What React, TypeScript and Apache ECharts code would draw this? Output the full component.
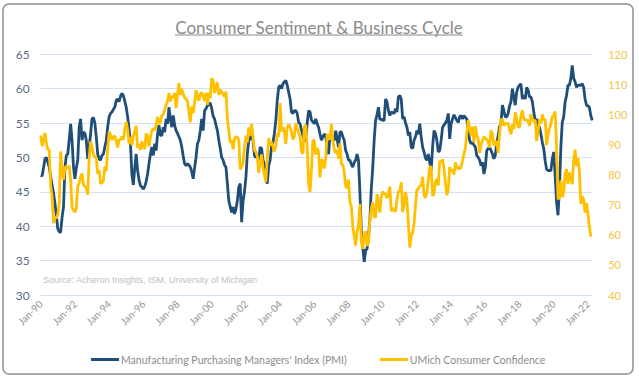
import React, { useEffect, useRef } from "react";
import * as echarts from "echarts";

// Monthly data, Jan-1990 onward
const START_YEAR = 1990;
const MONTHS = ["Jan", "Feb", "Mar", "Apr", "May", "Jun", "Jul", "Aug", "Sep", "Oct", "Nov", "Dec"];

const pmi: number[] = [
  47.4,
  47.3, 48.5, 49.8, 50.0, 49.3, 48.6, 47.2, 46.0, 44.8, 43.3, 41.5, 39.6,
  39.2, 39.1, 41.3, 42.8, 48.5, 50.3, 50.5, 52.5, 54.9, 52.5, 48.6, 46.9,
  48.5, 49.6, 54.4, 55.6, 52.5, 53.7, 53.5, 52.5, 49.8, 51.5, 53.4, 55.6,
  55.8, 55.0, 53.0, 50.5, 49.8, 49.6, 50.3, 50.5, 51.5, 52.5, 54.4, 55.9,
  56.4, 56.6, 57.0, 57.3, 58.3, 58.5, 58.1, 58.9, 59.3, 59.0, 58.2, 57.3,
  55.9, 54.2, 52.0, 47.5, 46.0, 48.5, 50.5, 48.1, 46.7, 45.9, 45.7, 45.4,
  45.8, 46.5, 47.6, 49.1, 50.5, 51.5, 50.3, 52.0, 51.0, 53.4, 54.7, 53.2,
  53.2, 54.4, 53.7, 55.6, 54.9, 57.3, 55.6, 54.4, 56.1, 54.7, 53.9, 53.5,
  53.0, 52.5, 51.5, 50.2, 49.1, 48.8, 49.1, 48.9, 48.6, 47.9, 46.9, 48.5,
  50.0, 52.0, 52.5, 53.9, 55.6, 53.9, 56.8, 57.1, 57.5, 57.8, 57.9, 57.1,
  56.0, 55.6, 54.7, 53.9, 52.5, 51.3, 50.0, 49.6, 48.9, 48.6, 46.2, 43.7,
  42.8, 42.0, 42.8, 41.8, 42.5, 43.7, 45.7, 46.2, 40.6, 43.7, 45.0, 47.1,
  50.5, 52.5, 52.7, 53.4, 52.5, 50.3, 50.0, 50.3, 49.6, 51.5, 51.3, 49.6,
  49.0, 47.1, 46.2, 48.8, 49.6, 51.7, 52.2, 53.5, 55.4, 58.3, 60.2, 60.5,
  60.0, 60.7, 61.0, 61.2, 60.5, 59.5, 58.5, 56.6, 56.4, 56.8, 56.8, 56.4,
  55.1, 54.9, 54.0, 53.2, 52.5, 52.5, 55.0, 56.8, 56.6, 55.4, 55.2, 54.9,
  55.6, 54.9, 54.4, 53.4, 52.5, 53.0, 53.4, 53.2, 51.0, 50.5, 53.2, 53.0,
  52.6, 52.5, 53.9, 52.7, 51.5, 53.7, 53.7, 53.0, 52.5, 51.0, 50.5, 49.6,
  49.6, 49.0, 48.6, 49.3, 49.6, 50.5, 49.6, 45.0, 39.5, 37.0, 34.8, 36.5,
  36.7, 38.5, 41.0, 45.5, 48.5, 52.5, 55.4, 56.2, 57.3, 55.5, 55.6, 55.4,
  55.4, 58.5, 58.1, 56.8, 56.1, 56.6, 56.5, 56.4, 57.1, 56.6, 58.8, 59.0,
  58.5, 55.6, 55.9, 55.0, 54.4, 53.2, 53.7, 51.5, 51.3, 52.5, 53.0, 53.9,
  53.4, 54.9, 53.0, 51.5, 50.8, 49.9, 49.6, 50.5, 49.3, 48.1, 51.5, 53.9,
  53.5, 52.5, 50.8, 51.0, 52.5, 54.4, 54.7, 55.0, 55.4, 56.4, 52.7, 54.9,
  55.6, 56.2, 55.8, 55.4, 55.1, 55.9, 56.1, 55.6, 56.1, 55.8, 55.6, 53.9,
  52.5, 52.0, 52.2, 51.8, 51.5, 50.3, 50.0, 49.6, 48.8, 49.3, 47.6, 48.6,
  51.0, 51.3, 51.5, 51.0, 50.5, 49.8, 50.3, 52.0, 53.2, 54.5, 55.0, 57.6,
  56.8, 55.9, 55.9, 56.4, 57.5, 58.1, 60.0, 58.8, 57.6, 59.5, 60.2, 60.5,
  60.7, 58.5, 59.0, 58.5, 60.2, 59.8, 58.8, 58.8, 58.1, 56.6, 55.4, 55.6,
  54.6, 54.4, 53.4, 52.2, 51.3, 49.5, 48.3, 48.1, 48.1, 48.1, 49.8, 50.8,
  47.4, 43.5, 41.6, 45.4, 51.5, 55.1, 55.9, 58.1, 59.0, 60.5, 60.5, 61.5,
  63.4, 61.5, 61.0, 60.2, 60.5, 60.5, 60.5, 60.7, 60.2, 58.5, 57.6, 57.5,
  57.3, 56.1, 55.4,
];

const umich: number[] = [
  93.0, 89.5, 91.3, 93.9, 90.6, 88.3, 88.2, 76.4, 72.8, 63.9, 66.0, 65.5,
  66.8, 70.4, 87.7, 81.8, 78.3, 82.1, 82.9, 82.0, 83.0, 78.3, 69.1, 68.2,
  67.5, 68.8, 76.0, 77.2, 79.2, 80.4, 76.6, 76.1, 75.6, 73.3, 85.3, 91.0,
  89.3, 86.6, 85.9, 85.6, 80.3, 81.5, 77.0, 77.3, 77.9, 82.7, 81.2, 88.2,
  94.3, 93.2, 91.5, 92.6, 92.8, 91.2, 89.0, 91.7, 91.5, 92.7, 91.6, 95.1,
  97.6, 95.1, 90.3, 92.5, 89.8, 92.7, 94.4, 96.2, 88.9, 90.2, 88.2, 91.0,
  89.3, 88.5, 93.7, 92.7, 89.4, 92.4, 94.7, 95.3, 94.7, 96.5, 99.2, 96.9,
  97.4, 99.7, 100.0, 101.4, 103.2, 104.5, 107.1, 104.4, 106.0, 105.6, 107.2, 102.1,
  106.6, 110.4, 106.5, 108.5, 106.8, 105.6, 105.2, 104.4, 100.9, 97.4, 102.7, 100.5,
  103.9, 108.1, 105.7, 104.6, 106.8, 107.3, 106.0, 104.5, 107.2, 103.2, 107.2, 105.4,
  112.0, 111.3, 107.1, 109.2, 110.7, 106.4, 108.3, 107.3, 106.8, 105.8, 107.6, 98.4,
  94.7, 90.6, 91.5, 88.4, 92.0, 92.6, 92.4, 91.5, 81.8, 82.7, 83.9, 88.8,
  93.0, 90.7, 95.7, 93.0, 96.9, 92.4, 88.1, 87.6, 86.1, 80.6, 84.2, 86.7,
  82.4, 79.9, 77.6, 86.0, 92.1, 89.7, 90.9, 89.3, 87.7, 89.6, 93.7, 92.6,
  103.8, 94.4, 95.8, 94.2, 90.2, 95.6, 96.7, 95.9, 94.2, 91.7, 92.8, 97.1,
  95.5, 94.1, 92.6, 87.7, 86.9, 96.0, 96.5, 89.1, 76.9, 74.2, 81.6, 91.5,
  91.2, 86.7, 88.9, 87.4, 79.1, 84.9, 84.7, 82.0, 85.4, 93.6, 92.1, 91.7,
  96.9, 91.3, 88.4, 87.1, 88.3, 85.3, 90.4, 83.4, 83.4, 80.9, 76.1, 75.5,
  78.4, 70.8, 69.5, 62.6, 59.8, 56.4, 61.2, 63.0, 70.3, 57.6, 55.3, 60.1,
  61.2, 56.3, 57.3, 65.1, 68.7, 70.8, 66.0, 65.7, 73.5, 70.6, 67.4, 72.5,
  74.4, 73.6, 73.6, 72.2, 73.6, 76.0, 67.8, 68.9, 68.2, 67.7, 71.6, 74.5,
  74.2, 77.5, 67.5, 69.8, 74.3, 71.5, 63.7, 55.8, 59.5, 60.8, 63.7, 69.9,
  75.0, 75.3, 76.2, 76.4, 79.3, 73.2, 72.3, 74.3, 78.3, 82.6, 82.7, 72.9,
  73.8, 77.6, 78.6, 76.4, 84.5, 84.1, 85.1, 82.1, 77.5, 73.2, 75.1, 82.5,
  81.2, 81.6, 80.0, 84.1, 81.9, 82.5, 81.8, 82.5, 84.6, 86.9, 88.8, 93.6,
  98.1, 95.4, 93.0, 95.9, 90.7, 96.1, 93.1, 91.9, 87.2, 90.0, 91.3, 92.6,
  92.0, 91.7, 91.0, 89.0, 94.7, 93.5, 90.0, 89.8, 91.2, 87.2, 93.8, 98.2,
  98.5, 96.3, 96.9, 97.0, 97.1, 95.0, 93.4, 96.8, 95.1, 100.7, 98.5, 95.9,
  95.7, 99.7, 101.4, 98.8, 98.0, 98.2, 97.9, 96.2, 100.1, 98.6, 97.5, 98.3,
  91.2, 93.8, 98.4, 97.2, 100.0, 98.2, 98.4, 89.8, 93.2, 95.5, 96.8, 99.3,
  99.8, 101.0, 89.1, 71.8, 72.3, 78.1, 72.5, 74.1, 80.4, 81.8, 76.9, 80.7,
  79.0, 76.8, 84.9, 88.3, 82.9, 85.5, 81.2, 70.3, 72.8, 71.7, 67.4, 70.6,
  67.2, 62.8, 59.4,
];

const leftTicks = { min: 30, max: 65, interval: 5 };
const rightTicks = { min: 40, max: 120, interval: 10 };

const TITLE = "Consumer Sentiment & Business Cycle";
const SOURCE = "Source: Acheron Insights, ISM, University of Michigan";
const PMI_NAME = "Manufacturing Purchasing Managers' Index (PMI)";
const UMICH_NAME = "UMich Consumer Confidence";

const categories: string[] = pmi.map((_, i) => {
  const y = START_YEAR + Math.floor(i / 12);
  return `${MONTHS[i % 12]}-${String(y % 100).padStart(2, "0")}`;
});

const W = 639;
const H = 379;
const FONT = "Lato, 'Open Sans', sans-serif";

export default function App() {
  const ref = useRef<HTMLDivElement>(null);

  useEffect(() => {
    document.body.style.margin = "0";
    if (!ref.current) return;
    const chart = echarts.init(ref.current, undefined, { renderer: "svg" });

    const titleSize = 17;
    let titleW = 283;
    try {
      const ctx = document.createElement("canvas").getContext("2d");
      if (ctx) {
        ctx.font = `${titleSize}px Lato`;
        titleW = ctx.measureText(TITLE).width;
      }
    } catch (e) {}
    const cx = 319;

    const gridLeft = 40.7;
    const gridRight = W - 592.2;
    const gridTop = 54.3;
    const gridBottom = H - 295;

    chart.setOption({
      animation: false,
      backgroundColor: "#ffffff",
      grid: { left: gridLeft, right: gridRight, top: gridTop, bottom: gridBottom, containLabel: false },
      xAxis: {
        type: "category",
        data: categories,
        boundaryGap: false,
        axisLine: { show: false },
        axisTick: { show: false },
        splitLine: { show: false },
        axisLabel: {
          interval: 23,
          rotate: 45,
          color: "#939393",
          fontSize: 10,
          fontFamily: FONT,
          margin: 7,
        },
      },
      yAxis: [
        {
          type: "value",
          min: leftTicks.min,
          max: leftTicks.max,
          interval: leftTicks.interval,
          axisLine: { show: false },
          axisTick: { show: false },
          splitLine: { show: true, lineStyle: { color: "#d3e1f0", width: 1 } },
          axisLabel: { color: "#5a6a85", fontSize: 12, fontFamily: FONT, margin: 11 },
        },
        {
          type: "value",
          position: "right",
          min: rightTicks.min,
          max: rightTicks.max,
          interval: rightTicks.interval,
          axisLine: { show: false },
          axisTick: { show: false },
          splitLine: { show: false },
          axisLabel: { color: "#f6c644", fontSize: 11, fontFamily: FONT, margin: 16 },
        },
      ],
      legend: {
        data: [PMI_NAME, UMICH_NAME],
        left: 86,
        top: 349,
        icon: "rect",
        itemWidth: 28,
        itemHeight: 3,
        itemGap: 33,
        textStyle: { color: "#8c8c8c", fontSize: 10.5, fontFamily: FONT, padding: [0, 0, 0, -3] },
      },
      series: [
        {
          name: PMI_NAME,
          type: "line",
          data: pmi,
          yAxisIndex: 0,
          symbol: "none",
          lineStyle: { color: "#1f4e79", width: 2.8 },
          itemStyle: { color: "#1f4e79" },
          z: 2,
        },
        {
          name: UMICH_NAME,
          type: "line",
          data: umich,
          yAxisIndex: 1,
          symbol: "none",
          lineStyle: { color: "#ffc000", width: 2.8 },
          itemStyle: { color: "#ffc000" },
          z: 3,
        },
      ],
      graphic: [
        {
          type: "rect",
          shape: { x: 3, y: 4, width: 630, height: 370, r: 6 },
          style: { fill: "none", stroke: "#8f8f8f", lineWidth: 1.5 },
          silent: true,
          z: -10,
        },
        {
          type: "text",
          x: cx,
          y: 27,
          style: {
            text: TITLE,
            fill: "#8a8a8a",
            font: `${titleSize}px Lato`,
            textAlign: "center",
            textVerticalAlign: "middle",
          },
        },
        {
          type: "line",
          shape: { x1: cx - titleW / 2, y1: 35, x2: cx + titleW / 2, y2: 35 },
          style: { stroke: "#8a8a8a", lineWidth: 1 },
        },
        {
          type: "text",
          x: 43,
          y: 280,
          style: {
            text: SOURCE,
            fill: "#c0c0c0",
            font: "9px 'Liberation Sans', Arial, sans-serif",
            textVerticalAlign: "middle",
          },
        },
      ],
    });

    return () => chart.dispose();
  }, []);

  return (
    <div
      ref={ref}
      style={{ position: "absolute", left: 0, top: 0, width: W, height: H }}
    />
  );
}
